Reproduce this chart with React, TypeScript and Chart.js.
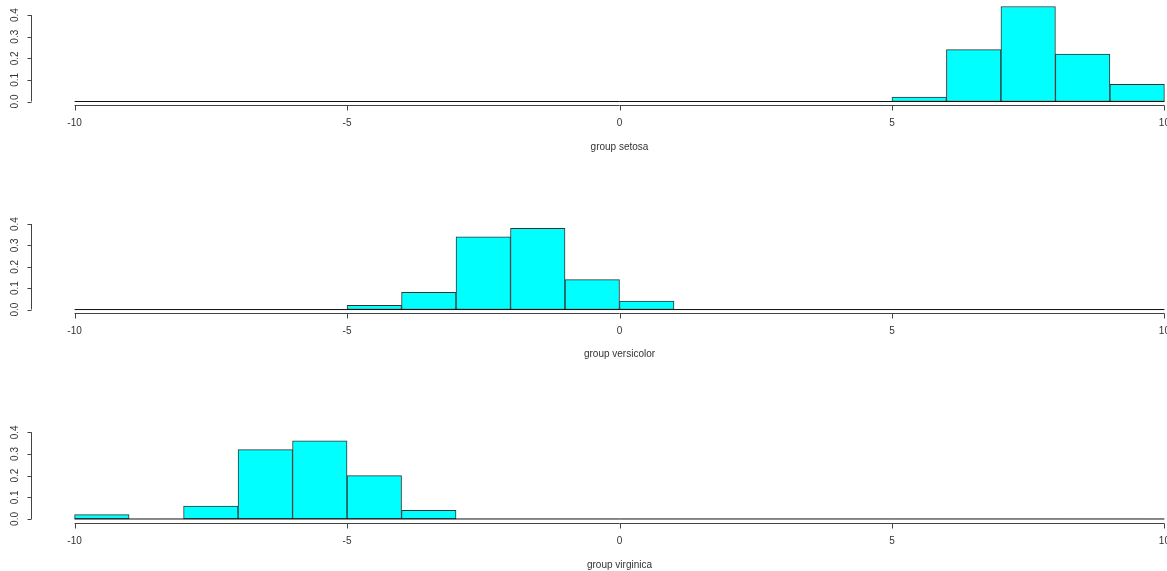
import React, { useEffect, useRef } from "react";
import { Chart, registerables } from "chart.js";

Chart.register(...registerables);

// ---- data ----
const xTicks = [-10, -5, 0, 5, 10];
const yTicks = [0, 0.1, 0.2, 0.3, 0.4];
const yTickLabels = ["0.0", "0.1", "0.2", "0.3", "0.4"];

const setosaBins = [5.5, 6.5, 7.5, 8.5, 9.5];
const setosaDensity = [0.02, 0.24, 0.44, 0.22, 0.08];

const versicolorBins = [-4.5, -3.5, -2.5, -1.5, -0.5, 0.5];
const versicolorDensity = [0.02, 0.08, 0.34, 0.38, 0.14, 0.04];

const virginicaBins = [-9.5, -8.5, -7.5, -6.5, -5.5, -4.5, -3.5];
const virginicaDensity = [0.02, 0, 0.06, 0.32, 0.36, 0.2, 0.04];

const groupTitles = ["group setosa", "group versicolor", "group virginica"];

// ---- layout ----
const CANVAS_W = 1260;
const CANVAS_H = 571;
const panels = [
  { bins: setosaBins, dens: setosaDensity, title: groupTitles[0], top: 2.7, bottom: 105.3, titleOff: 42 },
  { bins: versicolorBins, dens: versicolorDensity, title: groupTitles[1], top: 211.7, bottom: 313.3, titleOff: 41 },
  { bins: virginicaBins, dens: virginicaDensity, title: groupTitles[2], top: 419.8, bottom: 522.8, titleOff: 42 },
];

const FONT = '10px "Liberation Sans", Arial, sans-serif';
const TEXT = "#333";
const AXIS = "#444";

const rAxesPlugin = (title: string, titleOff: number) => ({
  id: "rAxes",
  afterDraw(chart: any) {
    const ctx = chart.ctx;
    const xs = chart.scales.x;
    const ys = chart.scales.y;
    const area = chart.chartArea;
    ctx.save();
    ctx.strokeStyle = AXIS;
    ctx.lineWidth = 1;
    ctx.fillStyle = TEXT;
    ctx.font = FONT;
    // x axis
    const ay = Math.round(area.bottom) + 0.5;
    ctx.beginPath();
    ctx.moveTo(xs.getPixelForValue(xTicks[0]), ay);
    ctx.lineTo(xs.getPixelForValue(xTicks[xTicks.length - 1]), ay);
    for (const t of xTicks) {
      const px = Math.round(xs.getPixelForValue(t)) + 0.5;
      ctx.moveTo(px, ay);
      ctx.lineTo(px, ay + 5);
    }
    ctx.stroke();
    ctx.textAlign = "center";
    ctx.textBaseline = "middle";
    for (const t of xTicks) {
      ctx.fillText(String(t), xs.getPixelForValue(t), ay + 18);
    }
    ctx.fillText(title, xs.getPixelForValue(0), ay + titleOff);
    // y axis
    const ax = Math.round(area.left) + 0.5;
    ctx.beginPath();
    ctx.moveTo(ax, ys.getPixelForValue(yTicks[0]));
    ctx.lineTo(ax, ys.getPixelForValue(yTicks[yTicks.length - 1]));
    for (const t of yTicks) {
      const py = Math.round(ys.getPixelForValue(t)) + 0.5;
      ctx.moveTo(ax, py);
      ctx.lineTo(ax - 4, py);
    }
    ctx.stroke();
    yTicks.forEach((t, i) => {
      ctx.save();
      ctx.translate(ax - 16, ys.getPixelForValue(t));
      ctx.rotate(-Math.PI / 2);
      ctx.fillText(yTickLabels[i], 0, 0);
      ctx.restore();
    });
    ctx.restore();
  },
});

function Panel({ idx }: { idx: number }) {
  const ref = useRef<HTMLCanvasElement>(null);
  useEffect(() => {
    const p = panels[idx];
    const chart = new Chart(ref.current!, {
      type: "bar",
      data: {
        datasets: [
          {
            type: "line",
            data: [
              { x: xTicks[0], y: 0 },
              { x: xTicks[xTicks.length - 1], y: 0 },
            ],
            borderColor: "#111",
            borderWidth: 1,
            pointRadius: 0,
            order: 0,
          } as any,
          {
            type: "bar",
            data: p.bins.map((b, i) => ({ x: b, y: p.dens[i] })),
            backgroundColor: "#00FFFF",
            borderColor: "#333",
            borderWidth: 1,
            borderSkipped: false,
            barPercentage: 1,
            categoryPercentage: 1,
            grouped: false,
            order: 1,
          } as any,
        ],
      },
      options: {
        responsive: false,
        animation: false,
        events: [],
        layout: {
          padding: { left: 31, right: CANVAS_W - 1208, top: p.top, bottom: CANVAS_H - p.bottom },
        },
        plugins: { legend: { display: false }, tooltip: { enabled: false }, title: { display: false } },
        scales: {
          x: {
            type: "linear",
            display: false,
            offset: false,
            grid: { offset: false },
            min: -10.8,
            max: 10.8,
            afterBuildTicks: (s: any) => {
              s.ticks = xTicks.map((v) => ({ value: v }));
            },
          },
          y: { type: "linear", display: false, min: -0.0176, max: 0.4576 },
        },
      },
      plugins: [rAxesPlugin(p.title, p.titleOff)],
    } as any);
    return () => chart.destroy();
  }, [idx]);
  return (
    <canvas
      ref={ref}
      width={CANVAS_W}
      height={CANVAS_H}
      style={{ position: "absolute", left: 0, top: 0, width: CANVAS_W, height: CANVAS_H }}
    />
  );
}

export default function App() {
  return (
    <div
      style={{
        position: "fixed",
        left: 0,
        top: 0,
        width: 1167,
        height: 571,
        overflow: "hidden",
        background: "#fff",
      }}
    >
      {panels.map((_, i) => (
        <Panel key={i} idx={i} />
      ))}
    </div>
  );
}
